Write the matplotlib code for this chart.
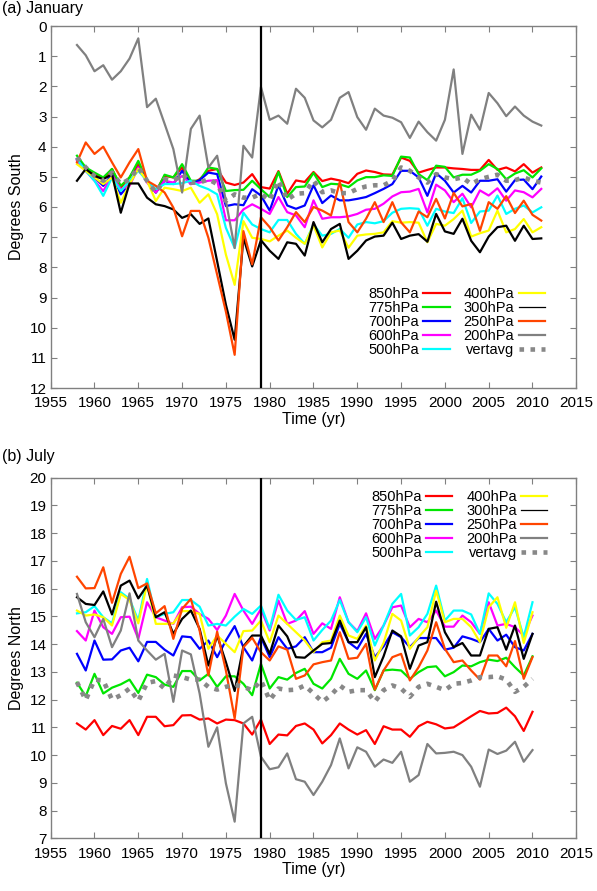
import numpy as np
import matplotlib
matplotlib.use("Agg")
import matplotlib.pyplot as plt
from matplotlib.lines import Line2D

plt.rcParams['font.family'] = ['Liberation Sans', 'DejaVu Sans']
plt.rcParams['font.size'] = 11.5

# years
years_jan = list(range(1958, 2012))
years_jul = list(range(1958, 2011))
split_year = 1979

labels = ["850hPa", "775hPa", "700hPa", "600hPa", "500hPa",
          "400hPa", "300hPa", "250hPa", "200hPa", "vertavg"]
colors = ["#ff0000", "#00e600", "#0000ff", "#ff00ff", "#00ffff",
          "#ffff00", "#000000", "#ff4500", "#808080", "#888888"]

# (a) January, degrees south
jan_850 = [4.41, 4.74, 4.91, 5.08, 4.74, 5.36, 5.02, 4.58, 5.13, 5.47, 4.97, 5.02, 4.69, 5.24, 5.08, 4.80, 4.74, 5.19, 5.27, 5.19, 4.91,
           5.34, 5.39, 4.81, 5.56, 5.12, 5.17, 4.84, 5.14, 5.06, 5.12, 5.21, 4.90, 4.79, 4.84, 4.92,
           4.93, 4.36, 4.47, 4.86, 4.77, 4.69, 4.69, 4.72, 4.74, 4.77, 4.77, 4.44, 4.77, 4.69, 4.82, 4.58, 4.86, 4.69]
jan_775 = [4.30, 4.69, 4.86, 5.02, 4.74, 5.30, 5.02, 4.47, 5.13, 5.52, 4.93, 5.02, 4.58, 5.13, 5.13, 4.69, 4.74, 5.47, 5.44, 5.43, 5.13,
           5.41, 5.67, 4.84, 5.67, 5.34, 5.32, 4.87, 5.34, 5.23, 5.25, 5.34, 5.12, 5.01, 5.01, 4.95,
           4.97, 4.33, 4.36, 4.91, 5.11, 4.63, 4.67, 5.02, 4.93, 4.93, 4.80, 4.58, 4.74, 5.08, 4.89, 4.78, 5.02, 4.72]
jan_700 = [4.41, 4.80, 5.02, 5.30, 4.91, 5.58, 5.24, 4.69, 5.13, 5.52, 5.13, 5.24, 4.80, 5.24, 5.11, 4.86, 4.91, 5.97, 5.91, 5.94, 5.41,
           5.62, 6.12, 5.28, 5.95, 6.06, 5.95, 5.28, 5.87, 5.62, 5.78, 5.78, 5.73, 5.67, 5.54, 5.40,
           5.24, 4.80, 4.80, 5.02, 5.63, 4.88, 5.13, 5.52, 5.30, 5.52, 5.13, 5.13, 5.08, 5.49, 5.11, 5.09, 5.41, 4.99]
jan_600 = [4.47, 4.80, 5.13, 5.47, 4.97, 5.41, 5.30, 4.69, 5.19, 5.52, 5.13, 5.19, 4.97, 5.24, 5.19, 5.13, 5.11, 6.44, 6.44, 6.08, 5.91,
           6.06, 6.23, 5.67, 6.17, 6.28, 6.67, 5.78, 6.39, 6.34, 6.34, 6.31, 6.23, 6.09, 6.06, 5.89,
           5.65, 5.51, 5.49, 5.40, 6.18, 5.26, 5.45, 5.84, 5.56, 6.01, 5.45, 5.62, 5.38, 5.79, 5.45, 5.51, 5.68, 5.40]
jan_500 = [4.41, 4.80, 5.13, 5.63, 5.02, 5.47, 5.13, 4.80, 5.13, 5.41, 5.24, 5.24, 5.21, 5.13, 5.30, 5.41, 5.58, 6.69, 7.36, 6.19, 6.58,
           6.73, 6.84, 6.43, 6.43, 6.89, 7.22, 6.58, 6.95, 6.89, 6.73, 7.02, 6.58, 6.50, 6.54, 6.47,
           6.19, 6.06, 6.04, 6.06, 6.62, 6.06, 6.15, 6.20, 5.71, 6.53, 6.15, 6.12, 5.62, 6.23, 6.06, 5.95, 6.18, 6.01]
jan_400 = [4.58, 4.80, 5.02, 5.24, 5.02, 5.86, 5.24, 4.74, 5.13, 5.80, 5.36, 5.41, 5.47, 5.36, 5.86, 5.58, 6.24, 7.58, 8.58, 6.47, 7.02,
           7.06, 7.14, 6.95, 6.78, 7.02, 7.22, 6.61, 7.34, 6.84, 6.78, 7.35, 6.95, 6.91, 6.89, 6.84,
           6.47, 6.52, 6.50, 6.52, 7.17, 6.56, 6.62, 6.40, 6.12, 6.98, 6.87, 6.78, 6.12, 6.84, 6.73, 6.40, 6.84, 6.67]
jan_300 = [5.13, 4.74, 4.97, 5.08, 4.91, 6.19, 5.22, 5.22, 5.69, 5.91, 5.97, 6.08, 6.36, 6.24, 6.56, 6.38, 7.80, 9.24, 10.40, 7.02, 7.97,
           7.10, 7.45, 7.72, 7.17, 7.22, 7.61, 6.50, 7.17, 6.73, 6.56, 7.72, 7.45, 7.11, 6.98, 6.95,
           6.52, 7.06, 6.95, 6.90, 7.15, 6.23, 6.81, 6.89, 6.39, 7.12, 7.50, 6.98, 6.67, 6.62, 7.12, 6.62, 7.06, 7.04]
jan_250 = [4.52, 3.86, 4.24, 4.00, 4.52, 5.02, 4.52, 4.08, 5.13, 5.30, 5.52, 6.02, 6.97, 6.13, 6.13, 7.02, 8.24, 9.47, 10.90, 6.80, 7.90,
           6.34, 6.67, 7.11, 6.67, 6.17, 6.50, 6.00, 6.12, 6.28, 5.17, 6.50, 6.84, 6.39, 5.84, 6.50,
           5.84, 6.51, 6.84, 6.15, 6.34, 5.73, 6.38, 5.53, 5.98, 5.90, 6.79, 5.84, 6.06, 5.64, 6.20, 5.79, 6.26, 6.45]
jan_200 = [0.63, 0.97, 1.50, 1.30, 1.78, 1.50, 1.08, 0.41, 2.69, 2.41, 3.24, 4.08, 5.52, 3.41, 2.97, 4.69, 4.30, 5.80, 7.36, 3.97, 4.36,
           2.02, 3.11, 2.97, 3.24, 2.08, 2.38, 3.13, 3.36, 3.11, 2.38, 2.19, 3.02, 3.44, 2.74, 2.97,
           3.04, 3.19, 3.71, 3.17, 3.52, 3.80, 3.11, 1.44, 4.24, 2.94, 3.44, 2.22, 2.56, 2.99, 2.67, 2.97, 3.17, 3.30]
jan_vert = [4.36, 4.69, 4.97, 5.13, 4.86, 5.24, 5.08, 4.69, 5.13, 5.52, 5.08, 5.13, 4.91, 5.19, 5.19, 5.08, 5.24, 5.80, 5.58, 5.69, 5.69,
            5.56, 5.78, 5.12, 5.76, 5.56, 5.54, 5.12, 5.51, 5.45, 5.54, 5.54, 5.40, 5.32, 5.28, 5.28,
            5.13, 4.69, 4.80, 5.02, 5.19, 4.91, 5.02, 5.08, 5.02, 5.24, 5.08, 5.00, 4.93, 5.13, 5.11, 5.02, 5.13, 5.19]

# (b) July, degrees north
jul_850 = [11.14, 10.92, 11.26, 10.72, 11.05, 10.95, 11.26, 10.72, 11.38, 11.38, 11.04, 11.08, 11.43, 11.44, 11.28, 11.32, 11.14, 11.28,
           11.26, 11.14, 10.74, 11.28, 10.40, 10.74, 10.71, 11.05, 11.14,
           10.92, 10.42, 10.72, 11.14, 10.92, 10.74, 10.90, 10.40, 11.04, 10.92, 10.92, 10.66, 11.04, 11.20, 11.11, 10.96, 11.00,
           11.20, 11.40, 11.59, 11.50, 11.52, 11.71, 11.40, 10.87, 11.56]
jul_775 = [12.61, 12.12, 12.93, 12.22, 12.43, 12.55, 12.72, 12.24, 12.90, 12.81, 12.54, 12.46, 13.03, 13.03, 12.69, 12.93, 12.46, 12.84,
           12.84, 12.57, 12.16, 13.29, 12.40, 12.81, 12.72, 12.96, 13.11,
           12.57, 12.40, 12.75, 13.47, 12.93, 12.75, 13.05, 12.34, 13.05, 13.08, 13.05, 12.75, 12.99, 13.17, 13.20, 12.84, 12.99,
           13.23, 13.20, 13.35, 13.44, 13.39, 13.51, 13.17, 12.87, 13.56]
jul_700 = [13.65, 13.05, 14.13, 13.44, 13.45, 13.77, 13.87, 13.38, 14.08, 14.08, 13.80, 13.59, 14.28, 14.25, 13.83, 14.13, 13.53, 14.13,
           14.65, 13.89, 13.41, 14.25, 13.53, 14.25, 13.83, 13.92, 14.25,
           13.71, 13.71, 13.87, 14.73, 14.07, 13.83, 14.37, 13.53, 13.92, 14.43, 14.25, 13.89, 14.22, 14.22, 14.22, 13.80, 13.87,
           14.28, 14.19, 14.07, 14.55, 14.13, 14.34, 13.89, 13.77, 14.37]
jul_600 = [14.47, 14.13, 15.21, 14.61, 14.37, 14.97, 14.99, 14.19, 15.51, 14.97, 14.85, 14.73, 15.33, 15.35, 15.09, 14.91, 14.51, 15.03,
           15.81, 15.21, 14.73, 15.27, 14.49, 15.57, 14.73, 14.85, 15.19,
           14.37, 14.75, 14.55, 15.69, 14.79, 14.47, 15.11, 14.19, 14.67, 15.33, 15.39, 14.61, 14.91, 14.79, 15.21, 14.63, 14.63,
           15.03, 14.79, 14.37, 15.51, 14.67, 14.73, 14.61, 14.31, 15.03]
jul_500 = [15.11, 15.15, 15.37, 14.97, 14.75, 15.87, 15.63, 14.85, 16.35, 14.97, 15.09, 15.15, 15.59, 15.59, 15.35, 14.67, 14.73, 14.67,
           14.99, 15.27, 15.09, 15.39, 14.55, 15.78, 15.21, 14.87, 14.97,
           14.13, 14.51, 14.85, 15.59, 14.79, 14.43, 14.97, 13.95, 14.67, 15.45, 15.81, 14.31, 14.61, 15.09, 16.11, 14.85, 15.21,
           15.21, 15.07, 14.37, 15.83, 15.45, 14.79, 15.33, 14.25, 15.51]
jul_400 = [15.21, 15.03, 15.07, 14.97, 14.67, 15.81, 15.59, 14.75, 16.17, 14.73, 14.73, 14.75, 15.19, 15.19, 15.09, 13.83, 14.31, 14.01,
           13.71, 14.47, 14.49, 14.85, 14.07, 15.03, 14.73, 14.43, 14.13,
           13.71, 14.07, 14.13, 15.03, 14.31, 14.19, 14.67, 13.41, 14.04, 15.09, 14.85, 13.83, 14.25, 14.61, 15.93, 14.79, 14.91,
           14.91, 14.61, 14.07, 15.33, 15.69, 14.59, 15.51, 14.04, 15.15]
jul_300 = [15.69, 15.45, 15.41, 15.90, 15.07, 16.11, 16.29, 15.65, 16.11, 14.97, 15.15, 14.37, 14.91, 15.21, 14.55, 13.23, 14.31, 13.35,
           12.31, 13.92, 14.31, 14.31, 13.65, 14.67, 14.28, 13.53, 13.51,
           13.77, 14.01, 14.04, 14.85, 14.07, 14.07, 14.61, 12.81, 13.56, 14.49, 14.28, 13.11, 13.95, 14.07, 15.53, 14.43, 13.89,
           14.04, 13.59, 13.59, 14.55, 14.61, 13.80, 14.67, 13.47, 14.37]
jul_250 = [16.43, 16.01, 16.02, 16.77, 15.49, 16.53, 17.15, 16.02, 16.19, 15.11, 15.37, 14.19, 15.27, 15.63, 14.49, 12.87, 14.45, 13.05,
           11.32, 13.89, 14.23, 13.71, 13.41, 13.92, 13.80, 12.75, 12.87,
           13.27, 13.35, 13.41, 14.43, 13.47, 13.51, 14.01, 12.36, 13.05, 13.53, 13.65, 12.69, 13.17, 13.77, 14.79, 13.83, 13.35,
           13.41, 13.05, 12.72, 13.59, 13.59, 13.20, 14.11, 12.75, 13.53]
jul_200 = [15.81, 14.79, 14.25, 14.91, 13.89, 14.49, 15.83, 14.13, 13.77, 13.44, 13.65, 11.92, 13.77, 13.63, 12.22, 10.30, 11.00, 8.98,
           7.60, 11.14, 11.38, 9.94, 9.49, 9.56, 10.06, 9.13, 9.04,
           8.56, 9.04, 9.64, 10.60, 9.52, 10.28, 10.12, 9.58, 9.84, 9.72, 10.12, 9.04, 9.28, 10.40, 10.06, 10.08, 10.12,
           10.00, 9.58, 8.86, 10.20, 10.04, 10.16, 10.48, 9.76, 10.18]
jul_vert = [12.63, 11.98, 12.72, 12.69, 12.00, 12.16, 12.40, 11.95, 12.60, 12.67, 12.40, 12.87, 12.81, 12.72, 12.72, 12.46, 12.36, 12.46,
            12.54, 12.46, 12.34, 12.69, 11.98, 12.40, 12.34, 12.36, 12.51,
            12.22, 11.92, 12.16, 12.51, 12.28, 12.34, 12.34, 11.92, 12.34, 12.51, 12.40, 12.10, 12.46, 12.57, 12.46, 12.34, 12.57,
            12.60, 12.69, 12.81, 12.81, 12.84, 12.72, 12.28, 12.46, 12.75]

jan_series = [jan_850, jan_775, jan_700, jan_600, jan_500, jan_400, jan_300, jan_250, jan_200, jan_vert]
jul_series = [jul_850, jul_775, jul_700, jul_600, jul_500, jul_400, jul_300, jul_250, jul_200, jul_vert]

W, H = 597, 891
fig = plt.figure(figsize=(W / 100, H / 100), dpi=100)
x0, x1 = 50.7, 576.3
ax1 = fig.add_axes([x0 / W, 1 - 388 / H, (x1 - x0) / W, (388 - 26) / H])
ax2 = fig.add_axes([x0 / W, 1 - 838.3 / H, (x1 - x0) / W, (838.3 - 477.7) / H])


def draw(ax, years, series):
    for s, c, lab in zip(series, colors, labels):
        if lab == "vertavg":
            ax.plot(years, s, color=c, lw=3.3, linestyle=(0, (1.0, 1.4)),
                    dash_capstyle='butt', zorder=3)
        else:
            ax.plot(years, s, color=c, lw=1.6, zorder=2)
    ax.axvline(split_year, color='black', lw=1.6, zorder=5)
    ax.set_xlim(1955, 2015)
    ax.set_xticks(range(1955, 2016, 5))
    for sp in ax.spines.values():
        sp.set_color('#808080')
        sp.set_linewidth(1.0)
    ax.tick_params(direction='in', top=True, right=True, length=4, width=0.8,
                   color='#808080', labelcolor='black', pad=3, labelsize=11)
    ax.tick_params(axis='x', pad=6)
    ax.set_xlabel("Time (yr)", labelpad=1)


def legend(ax, **kw):
    handles = []
    for c, lab in zip(colors, labels):
        if lab == "vertavg":
            h = Line2D([], [], color=c, lw=3.3, linestyle=(0, (1.0, 1.4)), dash_capstyle='butt')
        elif lab == "300hPa":
            h = Line2D([], [], color=c, lw=0.9)
        else:
            h = Line2D([], [], color=c, lw=1.6)
        handles.append(h)
    ax.legend(handles, labels, ncol=2, markerfirst=False, frameon=False, fontsize=10.5,
              handlelength=1.8, handletextpad=0.3, columnspacing=0.95,
              labelspacing=0.0, borderpad=0, borderaxespad=0, **kw)


draw(ax1, years_jan, jan_series)
ax1.set_ylim(12, 0)
ax1.set_yticks(range(0, 13))
ax1.set_ylabel("Degrees South", labelpad=4)
legend(ax1, loc='lower right', bbox_to_anchor=(0.94, 0.085))

draw(ax2, years_jul, jul_series)
ax2.set_ylim(7, 20)
ax2.set_yticks(range(7, 21))
ax2.set_ylabel("Degrees North", labelpad=4)
legend(ax2, loc='upper right', bbox_to_anchor=(0.945, 0.965))

fig.text(2 / W, 1 - 8 / H, "(a) January", ha='left', va='center')
fig.text(2 / W, 1 - 457 / H, "(b) July", ha='left', va='center')

fig.savefig("out.png", dpi=100)
